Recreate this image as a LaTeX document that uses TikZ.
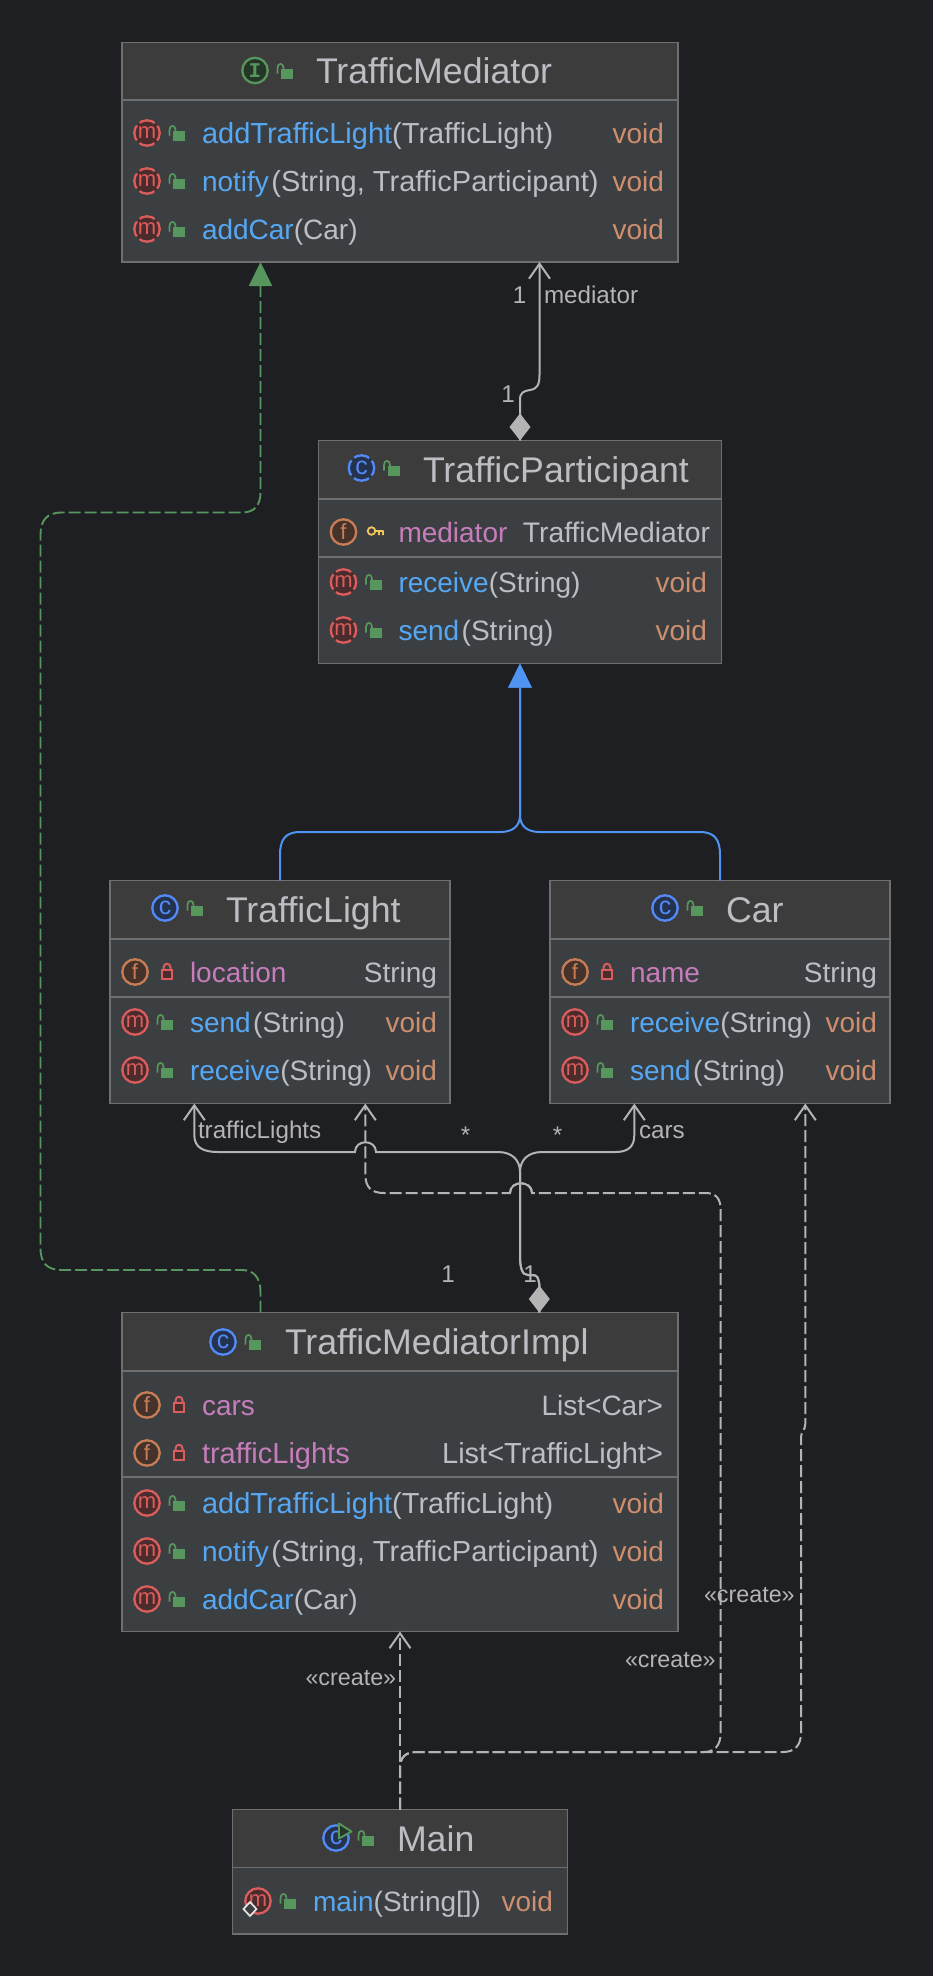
\documentclass[tikz,border=0pt]{standalone}
\usepackage{fontspec}
\setmainfont[Ligatures=CommonOff]{Liberation Sans}
\newfontfamily\serifmark{Liberation Mono}
\usetikzlibrary{arrows.meta,calc}
\definecolor{bg}{HTML}{1E1F22}
\definecolor{headfill}{HTML}{3D3C3C}
\definecolor{bodyfill}{HTML}{3C3F42}
\definecolor{edge}{HTML}{6F6F6F}
\definecolor{ctitle}{HTML}{BCBEC4}
\definecolor{cmeth}{HTML}{56A8F5}
\definecolor{cparam}{HTML}{BCBEC4}
\definecolor{cvoid}{HTML}{CF8E6D}
\definecolor{cfield}{HTML}{C77DBB}
\definecolor{clink}{HTML}{B4B4B4}
\definecolor{cgreen}{HTML}{57965C}
\definecolor{cblue}{HTML}{4F94F2}
\definecolor{mring}{HTML}{DB5C5C}
\definecolor{mfill}{HTML}{4A2C2C}
\definecolor{fring}{HTML}{C77D55}
\definecolor{ffill}{HTML}{45322B}
\definecolor{cring}{HTML}{548AF7}
\definecolor{cfill}{HTML}{25324D}
\definecolor{iring}{HTML}{57965C}
\definecolor{ifill}{HTML}{253627}
\definecolor{ckey}{HTML}{F2C55C}
\newcommand\memberfont{\fontsize{28}{32}\selectfont}
\newcommand\widefont[1]{{\fontsize{29}{32}\selectfont #1}}
\newcommand\titlefont{\fontsize{35.7}{40}\selectfont}
\newcommand\labelfont{\fontsize{24.2}{28}\selectfont}
\newcommand\createfont{\fontsize{23.3}{28}\selectfont}
\newcounter{autoname}
% box
\newcommand\umlbox[7]{%
  \node[boxbody,minimum width={(#4-#2)*1pt},minimum height={(#5-#3)*1pt}] (#1) at ({(#2+#4)/2},{(#3+#5)/2}) {};
  \fill[headfill] (#2,#3) rectangle (#4,#6);
  \draw[boxedge] (#1.north west) rectangle (#1.south east);
  \draw[boxedge] (#2,#6) -- (#4,#6);
  \ifx\relax#7\relax\else\draw[boxedge] (#2,#7) -- (#4,#7);\fi
}
% icons: x y ring fill letter-font letter dash
\newcommand\icon[7]{%
  \draw[line width=2.3pt,draw=#3,fill=#4,#7] (#1,#2) circle[radius=12.7];
  \stepcounter{autoname}
  \node[inner sep=0pt,text=#3,font=#5] (icon\arabic{autoname}) at (#1,#2) {#6};
}
\newcommand\mletter{\fontsize{22}{24}\selectfont}
\newcommand\fletter{\fontsize{22}{24}\selectfont}
\newcommand\cletter{\fontsize{25}{26}\selectfont}
\newcommand\publock[2]{%
  \fill[cgreen] ({#1-6},{#2-5}) rectangle ({#1+6},{#2+5});
  \draw[cgreen,line width=1.7pt] ({#1-9.5},{#2-0.5}) -- ({#1-9.5},{#2-6}) .. controls ({#1-9.5},{#2-11.5}) and ({#1-3.5},{#2-11.5}) .. ({#1-3.5},{#2-6}) -- ({#1-3.5},{#2-4});
}
\newcommand\privlock[2]{%
  \draw[mring,fill=mfill,line width=2pt] ({#1-5},{#2-4.5}) rectangle ({#1+5},{#2+5});
  \draw[mring,line width=2pt] ({#1-3.5},{#2-4.5}) -- ({#1-3.5},{#2-6.5}) .. controls ({#1-3.5},{#2-11.5}) and ({#1+3.5},{#2-11.5}) .. ({#1+3.5},{#2-6.5}) -- ({#1+3.5},{#2-4.5});
}
\newcommand\putL[4]{\stepcounter{autoname}\node[textbit,anchor=base west,font=#3] (txt\arabic{autoname}) at (#1,#2) {#4};}
\newcommand\putR[4]{\stepcounter{autoname}\node[textbit,anchor=base east,font=#3] (txt\arabic{autoname}) at (#1,#2) {#4};}
% rows: icon x, y, ring style, name, params, right x
\newcommand\mrow[6]{%
  \icon{#1}{#2}{mring}{mfill}{\mletter}{m}{#3}
  \publock{#1+32}{#2+3}
  \putL{#1+55}{#2+10}{\memberfont}{\textcolor{cmeth}{#4}\textcolor{cparam}{#5}}
  \putR{#6}{#2+10}{\memberfont}{\textcolor{cvoid}{void}}
}
\newcommand\frow[5]{%
  \icon{#1}{#2}{fring}{ffill}{\fletter}{f}{}
  \privlock{#1+32}{#2+2}
  \putL{#1+55}{#2+10}{\memberfont}{\textcolor{cfield}{#3}}
  \putR{#5}{#2+10}{\memberfont}{\textcolor{cparam}{#4}}
}
\newcommand\headrow[6]{% icon x, y icon, ring style, title x, baseline, title
  \icon{#1}{#2}{cring}{cfill}{\cletter}{c}{#3}
  \publock{#1+32}{#2+3}
  \putL{#4}{#5}{\titlefont}{\textcolor{ctitle}{#6}}
}
\tikzset{
  boxbody/.style={inner sep=0pt,outer sep=0pt,fill=bodyfill},
  boxedge/.style={draw=edge,line width=1.8pt},
  textbit/.style={inner sep=0pt,outer sep=0pt},
  linklabel/.style={inner sep=0pt,outer sep=0pt,text=clink,font=\labelfont},
  createlabel/.style={inner sep=0pt,outer sep=0pt,text=clink,font=\createfont},
  gapdash/.style={dash pattern=on 16pt off 3.9pt,dash phase=8pt},
  assoc/.style={draw=clink,line width=2pt},
  openhead/.style={-{Straight Barb[length=15pt,width=21pt,line width=2pt]}},
  createline/.style={draw=clink,line width=2pt,dash pattern=on 12pt off 4pt,openhead},
  realizeline/.style={draw=cgreen,line width=1.9pt,dash pattern=on 12pt off 4pt,-{Triangle[length=24pt,width=23pt,fill=cgreen]}},
  genline/.style={draw=cblue,line width=2pt,-{Triangle[length=24pt,width=23pt,fill=cblue]}},
}
\newcommand\compdiamond[2]{\fill[clink] (#1,#2) -- ({#1+10.5},{#2-13.5}) -- (#1,{#2-27}) -- ({#1-10.5},{#2-13.5}) -- cycle;}
\begin{document}
\begin{tikzpicture}[x=1pt,y=-1pt]
\useasboundingbox (0,0) rectangle (932,1976);
\fill[bg] (-5,-5) rectangle (937,1981);
%
\umlbox{tm}{122}{42.5}{678}{262}{100}{}
\umlbox{tp}{318.5}{440.5}{721.5}{663.5}{499}{557}
\umlbox{tl}{110}{880.5}{450}{1103.5}{939}{997}
\umlbox{car}{550}{880.5}{890}{1103.5}{939}{997}
\umlbox{tmi}{122}{1312.5}{678}{1631.5}{1371}{1477}
\umlbox{main}{232.5}{1809.5}{567.5}{1934}{1867.5}{}
%
% TrafficMediator
\icon{255}{70.5}{iring}{ifill}{\serifmark\bfseries\fontsize{21}{22}\selectfont}{I}{}
\publock{287}{74}
\putL{316}{83.5}{\titlefont}{\textcolor{ctitle}{TrafficMediator}}
\mrow{147}{133}{gapdash}{\widefont{addTrafficLight}}{\widefont{(TrafficLight)}}{664}
\mrow{147}{181}{gapdash}{notify\kern2.5pt}{\widefont{(String, TrafficParticipant)}}{664}
\mrow{147}{229}{gapdash}{addCar}{(Car)}{664}
% TrafficParticipant
\headrow{361.5}{468}{gapdash}{423}{482.5}{TrafficParticipant}
\icon{343.5}{532}{fring}{ffill}{\fletter}{f}{}
\draw[ckey,line width=1.8pt] (371.5,531) circle[radius=3.8] (375.5,531) -- (383.5,531) (379,531) -- (379,535) (383,531) -- (383,535);
\putL{398.5}{542}{\memberfont}{\textcolor{cfield}{mediator}}
\putR{710}{542}{\fontsize{28.3}{32}\selectfont}{\textcolor{cparam}{TrafficMediator}}
\mrow{343.5}{582}{gapdash}{receive}{(String)}{707}
\mrow{343.5}{630}{gapdash}{send\kern2.5pt}{(String)}{707}
% TrafficLight
\headrow{165}{908}{}{226}{922.5}{TrafficLight}
\frow{135}{972}{location}{String}{437}
\mrow{135}{1022}{}{send\kern2.5pt}{(String)}{437}
\mrow{135}{1070}{}{receive}{(String)}{437}
% Car
\headrow{665}{908}{}{726}{922.5}{Car}
\frow{575}{972}{name}{String}{877}
\mrow{575}{1022}{}{receive}{(String)}{877}
\mrow{575}{1070}{}{send\kern2.5pt}{(String)}{877}
% TrafficMediatorImpl
\headrow{223}{1342}{}{285}{1354.5}{TrafficMediatorImpl}
\frow{147}{1405}{cars}{List<Car>}{663}
\frow{147}{1453}{\widefont{trafficLights}}{\widefont{List<TrafficLight>}}{663}
\mrow{147}{1503}{}{\widefont{addTrafficLight}}{\widefont{(TrafficLight)}}{664}
\mrow{147}{1551}{}{notify\kern2.5pt}{\widefont{(String, TrafficParticipant)}}{664}
\mrow{147}{1599}{}{addCar}{(Car)}{664}
% Main
\headrow{336}{1838}{}{397}{1851.5}{Main}
\draw[cgreen,fill=ifill,line width=1.9pt,line join=round] (339,1823.5) -- (351.5,1831.5) -- (339,1838.5) -- cycle;
\mrow{258}{1901}{}{main}{(String[])}{553}
\draw[draw=white!90!black,fill=bodyfill,line width=1.7pt] (250,1902) -- (256.5,1909) -- (250,1916) -- (243.5,1909) -- cycle;
%
% connectors
\draw[realizeline] ([xshift=138.5pt]tmi.north west) -- (260.5,1292) .. controls (260.5,1278) and (254,1270) .. (242,1270) -- (62,1270) .. controls (47,1270) and (40.5,1263) .. (40.5,1248) -- (40.5,535) .. controls (40.5,520) and (47,512.5) .. (62,512.5) -- (242,512.5) .. controls (254,512.5) and (260.5,506) .. (260.5,492) -- ([xshift=138.5pt]tm.south west);
\draw[assoc,openhead] (tp.north) -- (520,400) .. controls (520,392) and (524,391) .. (530,390) .. controls (537,389) and (539.5,385) .. (539.5,375) -- ([xshift=417.5pt]tm.south west);
\compdiamond{520}{440.5}
\draw[genline] (tl.north) -- (280,855) .. controls (280,840) and (285,832) .. (300,832) -- (500,832) .. controls (513,832) and (520,826) .. (520,815) -- (tp.south);
\draw[genline] (car.north) -- (720,855) .. controls (720,840) and (715,832) .. (700,832) -- (540,832) .. controls (527,832) and (520,826) .. (520,815) -- (tp.south);
\draw[assoc,openhead] ([xshift=417.3pt]tmi.north west) -- (539.3,1284) .. controls (538,1278) and (538,1275) .. (532,1275) -- (528,1275) .. controls (522,1275) and (520,1268) .. (520,1255) -- (520,1172) .. controls (520,1160) and (512,1152) .. (498,1152) -- (376,1152) .. controls (376,1139) and (355,1139) .. (355,1152) -- (218,1152) .. controls (204,1152) and (194.3,1148) .. (194.3,1135) -- ([xshift=84.3pt]tl.south west);
\draw[assoc,openhead] ([xshift=417.3pt]tmi.north west) -- (539.3,1284) .. controls (538,1278) and (538,1275) .. (532,1275) -- (528,1275) .. controls (522,1275) and (520,1268) .. (520,1255) -- (520,1172) .. controls (520,1160) and (528,1152) .. (542,1152) -- (615,1152) .. controls (628,1152) and (634.3,1147) .. (634.3,1135) -- ([xshift=84.3pt]car.south west);
\compdiamond{539.3}{1312.5}
\draw[createline] (main.north) -- (tmi.south);
\draw[createline] (main.north) -- (400,1768) .. controls (400,1758) and (405,1752) .. (416,1752) -- (704,1752) .. controls (715,1752) and (720.6,1745) .. (720.6,1733) -- (720.6,1209) .. controls (720.6,1199) and (716,1193) .. (706,1193) -- (532,1193) .. controls (532,1180) and (510,1180) .. (510,1193) -- (384,1193) .. controls (372,1193) and (365.3,1188) .. (365.3,1174) -- ([xshift=255.3pt]tl.south west);
\draw[assoc] (532,1193) .. controls (532,1180) and (510,1180) .. (510,1193);
\draw[createline] (main.north) -- (400,1768) .. controls (400,1758) and (405,1752) .. (416,1752) -- (783,1752) .. controls (795,1752) and (801,1745) .. (801,1733) -- (801,1437) .. controls (801,1432) and (805.3,1430) .. (805.3,1424) -- ([xshift=255.3pt]car.south west);
%
% connector labels
\node[linklabel,anchor=base] (medOne) at (519.5,303) {1};
\node[linklabel,anchor=base west] (medName) at (544,303) {mediator};
\node[linklabel,anchor=base] (medOwn) at (508,402) {1};
\node[linklabel,anchor=base west] (lightsName) at (198,1138) {trafficLights};
\node[linklabel,anchor=base] (lightsStar) at (465.7,1143) {*};
\node[linklabel,anchor=base] (carsStar) at (557.7,1143) {*};
\node[linklabel,anchor=base west] (carsName) at (639,1138) {cars};
\node[linklabel,anchor=base] (implOneA) at (448,1282) {1};
\node[linklabel,anchor=base] (implOneB) at (530,1282) {1};
\node[createlabel,anchor=base west] (createImpl) at (305.5,1685) {«create»};
\node[createlabel,anchor=base west] (createLight) at (625,1667) {«create»};
\node[createlabel,anchor=base west] (createCar) at (704,1602) {«create»};
\end{tikzpicture}
\end{document}
